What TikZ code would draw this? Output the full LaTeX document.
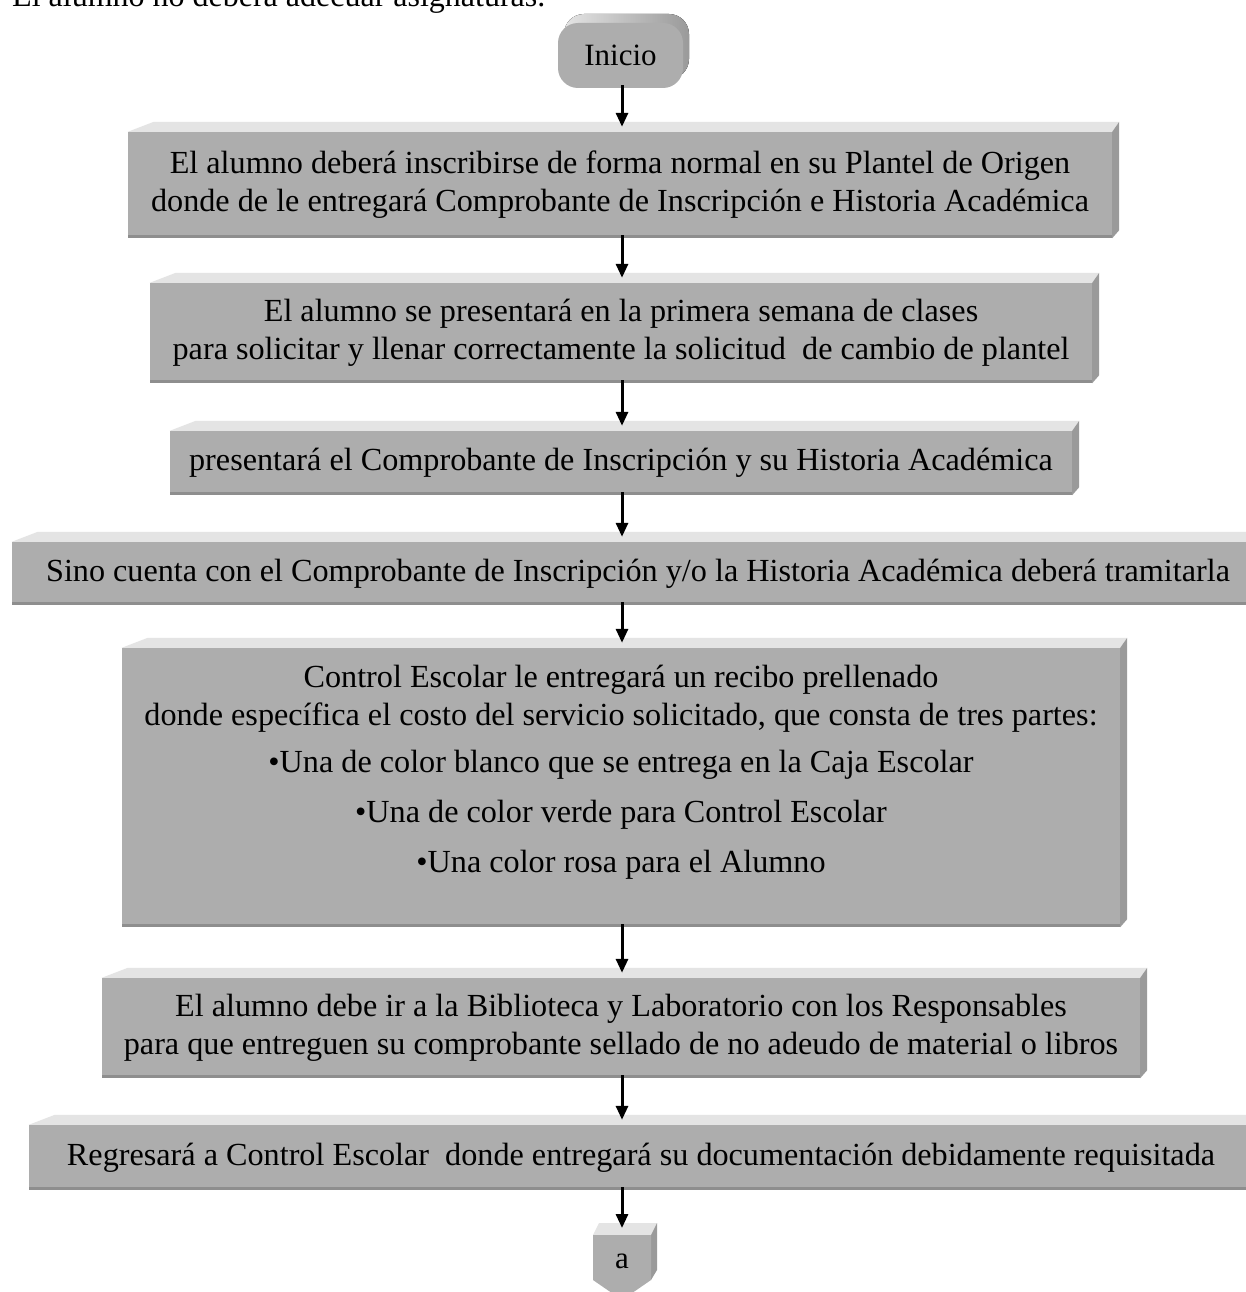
\documentclass[tikz,border=0pt]{standalone}
\usepackage{fontspec}
\setmainfont{Liberation Serif}
\usetikzlibrary{arrows.meta}

\definecolor{facegray}{HTML}{ADADAD}
\definecolor{topgray}{HTML}{E4E4E4}
\definecolor{sidegray}{HTML}{9A9A9A}
\definecolor{edgegray}{HTML}{8E8E8E}

\tikzset{
  stepbox/.style={fill=facegray, inner sep=0pt, align=center,
    font=\fontsize{32.2}{38}\selectfont},
  flow/.style={line width=3pt, -{Triangle[length=14pt,width=12pt]},
    shorten <=-3pt, shorten >=5pt},
}

% top face, side face and lower edge of a raised box
\newcommand\bevelfaces[1]{%
  \fill[topgray] (#1.north west) -- ++(26,-10) -- ([shift={(7,-10)}]#1.north east)
    -- (#1.north east) -- cycle;
  \fill[sidegray] (#1.north east) -- ([shift={(7,-10)}]#1.north east)
    -- ([shift={(7,-8)}]#1.south east) -- (#1.south east) -- cycle;
  \fill[edgegray] ([shift={(0,-3)}]#1.south west) rectangle (#1.south east);
}

\begin{document}
\begin{tikzpicture}[x=1pt,y=-1pt]
\useasboundingbox (0,0) rectangle (1246,1292);
\fill[white] (0,0) rectangle (1246,1292);

% heading line of the page
\node[anchor=base west, inner sep=0pt, font=\fontsize{32}{38}\selectfont] (head) at (12,7)
  {El alumno no deberá adecuar asignaturas.};

% start terminal
\fill[left color=topgray, right color=sidegray, rounded corners=20]
  (564,14) rectangle (689,79);
\node[fill=facegray, rounded corners=20, minimum width=125pt, minimum height=65pt,
  inner sep=0pt, font=\fontsize{31}{38}\selectfont] (ini) at (620.5,55.5) {Inicio};

% process steps
\node[stepbox, minimum width=984pt, minimum height=106pt] (b1) at (620,185)
  {El alumno deberá inscribirse de forma normal en su Plantel de Origen\\
   donde de le entregará Comprobante de Inscripción e Historia Académica};
\node[stepbox, minimum width=942pt, minimum height=100pt] (b2) at (621,333)
  {El alumno se presentará en la primera semana de clases\\
   para solicitar y llenar correctamente la solicitud\ \ de cambio de plantel};
\node[stepbox, minimum width=902pt, minimum height=64pt] (b3) at (621,463)
  {presentará el Comprobante de Inscripción y su Historia Académica};
\node[stepbox, minimum width=1252pt, minimum height=63pt] (b4) at (638,573.5)
  {Sino cuenta con el Comprobante de Inscripción y/o la Historia Académica deberá tramitarla};
\node[stepbox, minimum width=998pt, minimum height=279pt] (b5) at (621,787.5)
  {Control Escolar le entregará un recibo prellenado\\
   donde específica el costo del servicio solicitado, que consta de tres partes:\\[9pt]
   •Una de color blanco que se entrega en la Caja Escolar\\[12pt]
   •Una de color verde para Control Escolar\\[12pt]
   •Una color rosa para el Alumno\\[0pt]\mbox{}};
\node[stepbox, minimum width=1038pt, minimum height=100pt] (b6) at (621,1028)
  {El alumno debe ir a la Biblioteca y Laboratorio con los Responsables\\
   para que entreguen su comprobante sellado de no adeudo de material o libros};
\node[stepbox, minimum width=1224pt, minimum height=65pt] (b7) at (641,1157.5)
  {Regresará a Control Escolar\ \ donde entregará su documentación debidamente requisitada};

\foreach \b in {b1,b2,b3,b4,b5,b6,b7} { \bevelfaces{\b} }

% off-page connector
\node[inner sep=0pt, font=\fontsize{31}{38}\selectfont] (a) at (622,1261) {a};
\fill[topgray] ([shift={(-29,-26)}]a.center) -- ([shift={(-23,-38)}]a.center)
  -- ([shift={(35,-38)}]a.center) -- ([shift={(29,-26)}]a.center) -- cycle;
\fill[sidegray] ([shift={(29,-26)}]a.center) -- ([shift={(35,-38)}]a.center)
  -- ([shift={(35,9)}]a.center) -- ([shift={(29,19)}]a.center) -- cycle;
\fill[facegray] ([shift={(-29,-26)}]a.center) -- ([shift={(29,-26)}]a.center)
  -- ([shift={(29,19)}]a.center) -- ([shift={(0,39)}]a.center)
  -- ([shift={(-29,19)}]a.center) -- cycle;
\node[inner sep=0pt, font=\fontsize{31}{38}\selectfont] at (a) {a};

% connectors along the flow axis
\coordinate (axis) at (622,0);
\draw[flow] (axis |- ini.south) -- (axis |- b1.north);
\draw[flow] (axis |- b1.south) -- (axis |- b2.north);
\draw[flow] (axis |- b2.south) -- (axis |- b3.north);
\draw[flow] (axis |- b3.south) -- (axis |- b4.north);
\draw[flow] (axis |- b4.south) -- (axis |- b5.north);
\draw[flow] (axis |- b5.south) -- (axis |- b6.north);
\draw[flow] (axis |- b6.south) -- (axis |- b7.north);
\draw[flow, shorten >=0pt] (axis |- b7.south) -- ([shift={(0,-33)}]a.center);
\end{tikzpicture}
\end{document}
